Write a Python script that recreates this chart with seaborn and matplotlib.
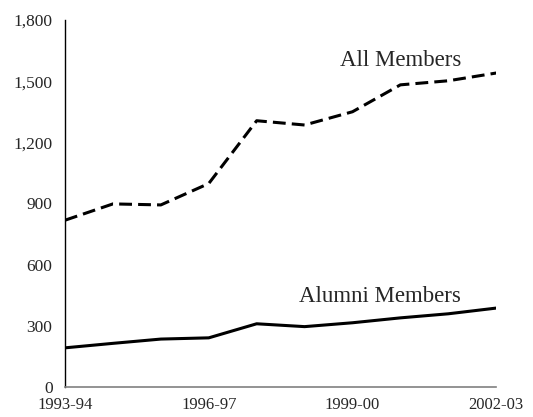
import matplotlib
matplotlib.use("Agg")
import matplotlib.pyplot as plt
import pandas as pd
import seaborn as sns

# Membership counts by academic year
years = ["1993-94", "1994-95", "1995-96", "1996-97", "1997-98",
         "1998-99", "1999-00", "2000-01", "2001-02", "2002-03"]
all_members = [818, 898, 893, 998, 1306, 1285, 1350, 1482, 1502, 1540]
alumni_members = [192, 214, 235, 241, 310, 296, 315, 339, 359, 387]
tick_years = ["1993-94", "1996-97", "1999-00", "2002-03"]

df = pd.DataFrame({"year": years, "idx": range(len(years)),
                   "All Members": all_members,
                   "Alumni Members": alumni_members})

sns.set_theme(style="white")
plt.rcParams["font.family"] = ["Liberation Serif", "DejaVu Serif"]

fig = plt.figure(figsize=(5.33, 4.17), dpi=100)
ax = fig.add_axes([0.122, 0.072, 0.809, 0.880])

sns.lineplot(data=df, x="idx", y="All Members", ax=ax, color="black",
             linewidth=2.2, linestyle=(0, (4.2, 2.0)))
sns.lineplot(data=df, x="idx", y="Alumni Members", ax=ax, color="black",
             linewidth=2.2)

ax.set_xlim(0, len(years) - 1)
ax.set_ylim(0, 1800)
ax.set_yticks(range(0, 1801, 300))
ax.set_yticklabels([f"{v:,}" for v in range(0, 1801, 300)], fontsize=12.5)
ax.set_xticks([years.index(t) for t in tick_years])
ax.set_xticklabels(tick_years, fontsize=12)
ax.tick_params(axis="y", length=0, pad=9)
ax.tick_params(axis="x", length=0, pad=7)
ax.set_xlabel("")
ax.set_ylabel("")

sns.despine(ax=ax)
ax.spines["left"].set_color("black")
ax.spines["left"].set_linewidth(1.0)
ax.spines["bottom"].set_color("#808080")
ax.spines["bottom"].set_linewidth(1.2)

ax.text(7.0, 1600, "All Members", fontsize=16.5, ha="center", va="center")
ax.text(6.57, 445, "Alumni Members", fontsize=16.5, ha="center", va="center")

fig.savefig("out.png", dpi=100)
